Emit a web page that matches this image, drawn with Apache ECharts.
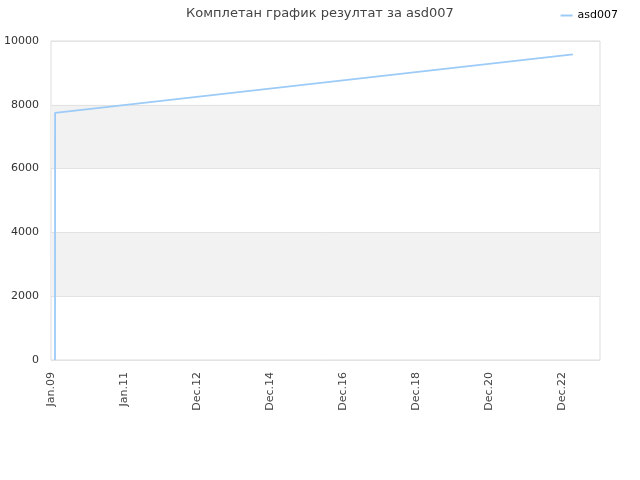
<!DOCTYPE html>
<html>
<head>
<meta charset="utf-8">
<script src="https://cdn.jsdelivr.net/npm/echarts@6/dist/echarts.min.js"></script>
<style>
  html, body { margin: 0; padding: 0; background: #fff; }
  #chart { width: 640px; height: 480px; }
</style>
</head>
<body>
<div id="chart"></div>
<script>
// подаци графика
const startDate = '2009-01-01';
const pointDates = ['2009-02-10', '2009-02-11', '2023-04-17'];
const pointValues = [0, 7750, 9580];
const yTicks = [0, 2000, 4000, 6000, 8000, 10000];
const xTickStepDays = 730;
const xMaxDays = 5490;
const monthNames = ['Jan', 'Feb', 'Mar', 'Apr', 'May', 'Jun', 'Jul', 'Aug', 'Sep', 'Oct', 'Nov', 'Dec'];

const DAY = 24 * 3600 * 1000;
const t0 = Date.parse(startDate + 'T00:00:00Z');

function toDays(d) {
  return Math.round((Date.parse(d + 'T00:00:00Z') - t0) / DAY);
}

function dayLabel(days) {
  const d = new Date(t0 + days * DAY);
  const yy = String(d.getUTCFullYear() % 100).padStart(2, '0');
  return monthNames[d.getUTCMonth()] + '.' + yy;
}

const seriesData = pointDates.map((d, i) => [toDays(d), pointValues[i]]);

const chart = echarts.init(document.getElementById('chart'));

chart.setOption({
  animation: false,
  textStyle: { fontFamily: 'DejaVu Sans' },
  title: {
    text: 'Комплетан график резултат за asd007',
    left: 'center',
    top: 2,
    textStyle: { fontSize: 13, fontWeight: 'normal', color: '#444' }
  },
  legend: {
    right: 17,
    top: 5,
    icon: 'rect',
    itemWidth: 12,
    itemHeight: 2,
    itemGap: 8,
    textStyle: { fontSize: 11, color: '#000' },
    data: ['asd007']
  },
  grid: {
    left: 51, right: 40, top: 41, bottom: 120,
    outerBoundsMode: 'none',
    containLabel: false,
    show: true,
    borderColor: '#dddddd',
    borderWidth: 1
  },
  xAxis: {
    type: 'value',
    min: 0,
    max: xMaxDays,
    interval: xTickStepDays,
    axisLine: { show: false },
    axisTick: { show: false },
    splitLine: { show: false },
    axisLabel: {
      rotate: 90,
      margin: 12,
      fontSize: 11,
      color: '#444',
      showMaxLabel: false,
      formatter: v => dayLabel(v)
    }
  },
  yAxis: {
    type: 'value',
    min: yTicks[0],
    max: yTicks[yTicks.length - 1],
    interval: yTicks[1] - yTicks[0],
    axisLine: { show: false },
    axisTick: { show: false },
    axisLabel: { fontSize: 11, color: '#333', margin: 12, formatter: v => String(v) },
    splitLine: { lineStyle: { color: '#e2e2e2' } },
    splitArea: { show: true, areaStyle: { color: ['rgba(255,255,255,0)', '#f2f2f2'] } }
  },
  series: [{
    name: 'asd007',
    type: 'line',
    symbol: 'none',
    data: seriesData,
    lineStyle: { color: '#9ccbf7', width: 1.8 },
    itemStyle: { color: '#9ccbf7' }
  }]
});
</script>
</body>
</html>
